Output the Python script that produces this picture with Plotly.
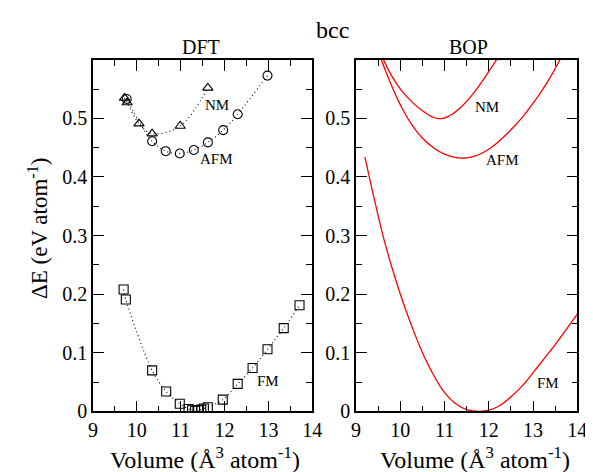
import plotly.graph_objects as go

# ---------------- DFT data ----------------
nm_dft_x = [9.72, 9.78, 10.05, 10.35, 10.99, 11.62]
nm_dft_y = [0.535, 0.527, 0.491, 0.474, 0.487, 0.552]

afm_dft_x = [9.77, 10.35, 10.66, 10.98, 11.30, 11.62, 11.97, 12.30, 12.98]
afm_dft_y = [0.533, 0.461, 0.444, 0.440, 0.446, 0.459, 0.480, 0.507, 0.573]

fm_dft_x = [9.70, 9.75, 10.35, 10.67, 10.98, 11.18, 11.26, 11.33, 11.40, 11.47,
            11.53, 11.62, 11.96, 12.30, 12.64, 12.98, 13.35, 13.71]
fm_dft_y = [0.208, 0.191, 0.070, 0.034, 0.013, 0.004, 0.002, 0.001, 0.002, 0.003,
            0.005, 0.007, 0.020, 0.047, 0.074, 0.106, 0.142, 0.181]

# ---------------- BOP data ----------------
nm_bop_x = [9.62, 9.8, 10.0, 10.25, 10.5, 10.83, 11.1, 11.38, 11.6, 11.82, 12.0, 12.19]
nm_bop_y = [0.600, 0.573, 0.550, 0.529, 0.513, 0.500, 0.504, 0.520, 0.538, 0.560, 0.580, 0.602]

afm_bop_x = [9.57, 9.8, 10.0, 10.25, 10.5, 10.75, 11.0, 11.38, 11.7, 12.04, 12.4, 12.77,
             13.0, 13.29, 13.62]
afm_bop_y = [0.600, 0.556, 0.523, 0.490, 0.466, 0.450, 0.439, 0.432, 0.436, 0.4495, 0.473,
             0.503, 0.526, 0.558, 0.602]

fm_bop_x = [9.2, 9.4, 9.6, 9.8, 10.0, 10.25, 10.5, 10.75, 11.0, 11.25, 11.5, 11.8, 12.0,
            12.25, 12.5, 12.75, 13.0, 13.25, 13.5, 13.75, 14.0]
fm_bop_y = [0.434, 0.366, 0.302, 0.248, 0.200, 0.147, 0.100, 0.062, 0.032, 0.013, 0.003,
            0.000, 0.002, 0.010, 0.025, 0.043, 0.066, 0.090, 0.114, 0.140, 0.166]

x_ticks = [9, 10, 11, 12, 13, 14]
y_ticks = [0, 0.1, 0.2, 0.3, 0.4, 0.5, 0.6]
y_ticktext = ["0", "0.1", "0.2", "0.3", "0.4", "0.5", ""]

W, H = 593, 472
FONT = "Times New Roman, Liberation Serif, DejaVu Serif, serif"

fig = go.Figure()

dot = dict(color="black", width=1.1, dash="1px,3px", shape="spline")


def mk(symbol):
    return dict(symbol=symbol, size=9, color="black", line=dict(color="black", width=1.1))


fig.add_trace(go.Scatter(x=nm_dft_x, y=nm_dft_y, mode="lines+markers", line=dot,
                         marker=mk("triangle-up-open"), xaxis="x", yaxis="y"))
fig.add_trace(go.Scatter(x=afm_dft_x, y=afm_dft_y, mode="lines+markers", line=dot,
                         marker=mk("circle-open"), xaxis="x", yaxis="y"))
fig.add_trace(go.Scatter(x=fm_dft_x, y=fm_dft_y, mode="lines+markers", line=dot,
                         marker=mk("square-open"), xaxis="x", yaxis="y"))

red = dict(color="red", width=1.3, shape="spline", smoothing=1.3)
for xs, ys in [(nm_bop_x, nm_bop_y), (afm_bop_x, afm_bop_y), (fm_bop_x, fm_bop_y)]:
    fig.add_trace(go.Scatter(x=xs, y=ys, mode="lines", line=red, xaxis="x2", yaxis="y2"))

px = lambda p: p / W
py = lambda p: 1 - p / H

x_common = dict(range=[9, 14], tickvals=x_ticks, ticks="inside", ticklen=11, tickwidth=1.3,
                tickcolor="black", showline=True, linecolor="black", linewidth=1.5,
                mirror="ticks", showgrid=False, zeroline=False,
                minor=dict(dtick=0.5, tick0=9, ticks="inside", ticklen=6, tickwidth=1.2,
                           tickcolor="black", showgrid=False),
                tickfont=dict(family=FONT, size=20, color="black"))
y_common = dict(range=[0, 0.6], tickvals=y_ticks, ticktext=y_ticktext, ticks="inside",
                ticklen=11, tickwidth=1.3, tickcolor="black", showline=True,
                linecolor="black", linewidth=1.5, mirror="ticks", showgrid=False,
                zeroline=False,
                minor=dict(dtick=0.05, tick0=0, ticks="inside", ticklen=6, tickwidth=1.2,
                           tickcolor="black", showgrid=False),
                tickfont=dict(family=FONT, size=20, color="black"),
                domain=[py(413), py(53)])

fig.update_layout(
    width=W, height=H,
    margin=dict(l=0, r=0, t=0, b=0),
    paper_bgcolor="white", plot_bgcolor="white",
    showlegend=False,
    xaxis=dict(x_common, domain=[px(82), px(307)], anchor="y"),
    yaxis=dict(y_common, anchor="x"),
    xaxis2=dict(x_common, domain=[px(352), px(579)], anchor="y2"),
    yaxis2=dict(y_common, anchor="x2"),
    font=dict(family=FONT, color="black"),
)

ann = []


def txt(x, y, s, size, **kw):
    ann.append(dict(x=x, y=y, xref="paper", yref="paper", text=s, showarrow=False,
                    xanchor="center", yanchor="middle",
                    font=dict(family=FONT, size=size, color="black"), **kw))


txt(px(328), py(23), "bcc", 24)
txt(px(193), py(40), "DFT", 20)
txt(px(467), py(40), "BOP", 20)
xt = "Volume (Å<sup>3</sup> atom<sup>-1</sup>)"
txt(px(197), py(461), xt, 24)
txt(px(474), py(461), xt, 24)
txt(px(26), py(226), "ΔE (eV atom<sup>-1</sup>)", 23, textangle=-90)

# data-space labels
for xr, yr, x, y, s in [("x", "y", 11.84, 0.522, "NM"), ("x", "y", 11.81, 0.430, "AFM"),
                        ("x", "y", 13.0, 0.051, "FM"),
                        ("x2", "y2", 11.95, 0.520, "NM"), ("x2", "y2", 12.30, 0.429, "AFM"),
                        ("x2", "y2", 13.34, 0.048, "FM")]:
    ann.append(dict(x=x, y=y, xref=xr, yref=yr, text=s, showarrow=False,
                    xanchor="center", yanchor="middle",
                    font=dict(family=FONT, size=15, color="black")))

fig.update_layout(annotations=ann)
fig.write_html("out.html")
